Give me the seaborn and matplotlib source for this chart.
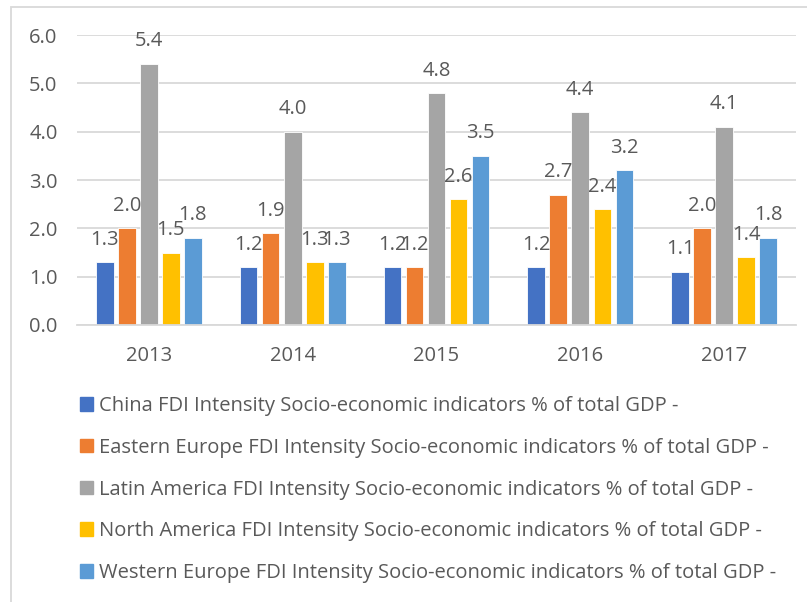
import matplotlib.pyplot as plt
import seaborn as sns
import pandas as pd
from matplotlib.patches import Rectangle

# Dados
years = ["2013", "2014", "2015", "2016", "2017"]
series_names = [
    "China FDI Intensity Socio-economic indicators % of total GDP -",
    "Eastern Europe FDI Intensity Socio-economic indicators % of total GDP -",
    "Latin America FDI Intensity Socio-economic indicators % of total GDP -",
    "North America FDI Intensity Socio-economic indicators % of total GDP -",
    "Western Europe FDI Intensity Socio-economic indicators % of total GDP -",
]
china = [1.3, 1.2, 1.2, 1.2, 1.1]
eastern_europe = [2.0, 1.9, 1.2, 2.7, 2.0]
latin_america = [5.4, 4.0, 4.8, 4.4, 4.1]
north_america = [1.5, 1.3, 2.6, 2.4, 1.4]
western_europe = [1.8, 1.3, 3.5, 3.2, 1.8]
colors = ["#4472C4", "#ED7D31", "#A5A5A5", "#FFC000", "#5B9BD5"]

values = [china, eastern_europe, latin_america, north_america, western_europe]
rows = []
for name, vals in zip(series_names, values):
    for y, v in zip(years, vals):
        rows.append({"Year": y, "Series": name, "Value": v})
df = pd.DataFrame(rows)

sns.set_theme(style="white")
plt.rcParams["font.family"] = ["Open Sans", "DejaVu Sans"]
text_color = "#595959"
grid_color = "#D9D9D9"
fs = 14.5

fig = plt.figure(figsize=(8.07, 6.02), dpi=100)
ax = fig.add_axes([77 / 807, 1 - 325 / 602, (796 - 77) / 807, (325 - 35) / 602])

sns.barplot(data=df, x="Year", y="Value", hue="Series", hue_order=series_names,
            palette=colors, saturation=1, width=0.765, gap=0.2, ax=ax,
            legend=False, edgecolor="white", linewidth=0.6)

for cont in ax.containers:
    ax.bar_label(cont, fmt="%.1f", padding=9, fontsize=fs, color=text_color)

ax.set_ylim(0, 6)
ax.set_xlim(-0.5, 4.5)
ax.set_yticks([0, 1, 2, 3, 4, 5, 6])
ax.set_yticklabels([f"{t:.1f}" for t in range(7)])
ax.yaxis.grid(True, color=grid_color, linewidth=1.3)
ax.set_axisbelow(True)
for s in ["left", "right", "top"]:
    ax.spines[s].set_visible(False)
ax.spines["bottom"].set_color(grid_color)
ax.spines["bottom"].set_linewidth(1.3)
ax.tick_params(axis="y", length=0, pad=14, labelsize=fs, labelcolor=text_color)
ax.tick_params(axis="x", length=0, pad=15, labelsize=fs, labelcolor=text_color)
ax.set_xlabel("")
ax.set_ylabel("")

# Legenda manual
handles = [Rectangle((0, 0), 1, 1, color=c) for c in colors]
leg = fig.legend(handles, series_names, loc="upper left",
                 bbox_to_anchor=(80 / 807, 1 - 396 / 602), frameon=False,
                 fontsize=fs, labelcolor=text_color, handlelength=0.65,
                 handleheight=0.65, handletextpad=0.3, labelspacing=1.08,
                 borderpad=0, borderaxespad=0)

# Borda do gráfico
fig.patches.append(Rectangle((11 / 807, -0.01), 1.0, 1 - 7 / 602 + 0.01,
                             transform=fig.transFigure, fill=False,
                             edgecolor=grid_color, linewidth=1.3))

plt.savefig("out.png", dpi=100)
plt.close()
